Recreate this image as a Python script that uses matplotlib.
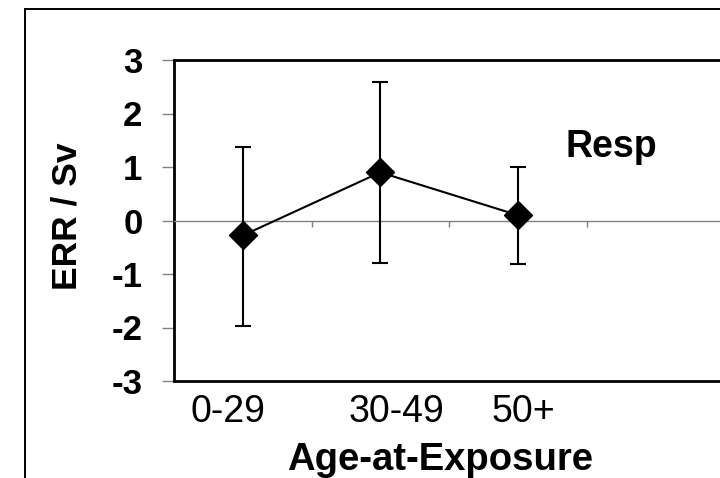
import matplotlib
matplotlib.use("Agg")
import matplotlib.pyplot as plt
from matplotlib.patches import Rectangle
from matplotlib.transforms import ScaledTranslation

# données
CATEGORIES = ["0-29", "30-49", "50+"]
ERR_SV = [-0.28, 0.9, 0.1]
IC_BAS = [-1.97, -0.79, -0.81]
IC_HAUT = [1.37, 2.59, 1.0]
Y_TICKS = [-3, -2, -1, 0, 1, 2, 3]

plt.rcParams["font.family"] = ["Liberation Sans", "DejaVu Sans"]

fig = plt.figure(figsize=(7.2, 4.78), dpi=100)
W, H = 720, 478

# cadre extérieur (coupé à droite et en bas)
fig.patches.append(Rectangle((25 / W, -0.2), 1.2, 1.2 - 9 / H,
                             transform=fig.transFigure, fill=False,
                             edgecolor="black", lw=1.4, zorder=0))

ax = fig.add_axes([174 / W, 1 - 381 / H, 550 / W, 321 / H])
x = list(range(len(CATEGORIES)))
yerr = [[v - lo for v, lo in zip(ERR_SV, IC_BAS)],
        [hi - v for v, hi in zip(ERR_SV, IC_HAUT)]]
ax.errorbar(x, ERR_SV, yerr=yerr, fmt="none", ecolor="black", elinewidth=1.5,
            capsize=6, capthick=1.5, zorder=3)
ax.plot(x, ERR_SV, "-", color="black", lw=1.5, marker="D", ms=14.5,
        mfc="black", mec="black", zorder=4)

ax.set_xlim(-0.5, 3.5)
ax.set_ylim(-3, 3)

# axe des catégories sur y = 0
ax.spines["bottom"].set_position(("data", 0))
ax.spines["bottom"].set_color("#808080")
ax.spines["bottom"].set_linewidth(1.0)
ax.spines["right"].set_visible(False)
ax.spines["left"].set_linewidth(2)
ax.spines["top"].set_linewidth(2)
ax.set_xticks([0.5, 1.5, 2.5])
ax.tick_params(axis="x", direction="out", length=4, width=1, color="#808080",
               labelbottom=False)

ax.set_yticks(Y_TICKS)
ax.set_yticklabels([str(t) for t in Y_TICKS], fontsize=25, fontweight="bold")
ax.tick_params(axis="y", direction="out", length=8.6, width=1, color="#808080",
               pad=14)

# axe inférieur (cadre) avec les étiquettes de catégories
sec = ax.secondary_xaxis(0)
sec.spines["bottom"].set_linewidth(2)
sec.set_xticks(x)
sec.set_xticklabels(CATEGORIES, fontsize=27)
sec.tick_params(length=0, pad=9)
for lab, dx in zip(sec.get_xticklabels(), [-11, 12, 4]):
    lab.set_transform(lab.get_transform() + ScaledTranslation(dx / 72, 0, fig.dpi_scale_trans))

fig.text(67 / W, 1 - 216 / H, "ERR / Sv", rotation=90, ha="center", va="center",
         fontsize=25.5, fontweight="bold")
fig.text(440 / W, 1 - 470 / H, "Age-at-Exposure", ha="center", va="baseline",
         fontsize=27.5, fontweight="bold")
ax.text(611 / W, 1 - 157 / H, "Resp", transform=fig.transFigure, ha="center",
        va="baseline", fontsize=27, fontweight="bold")

fig.savefig("out.png", dpi=100)
